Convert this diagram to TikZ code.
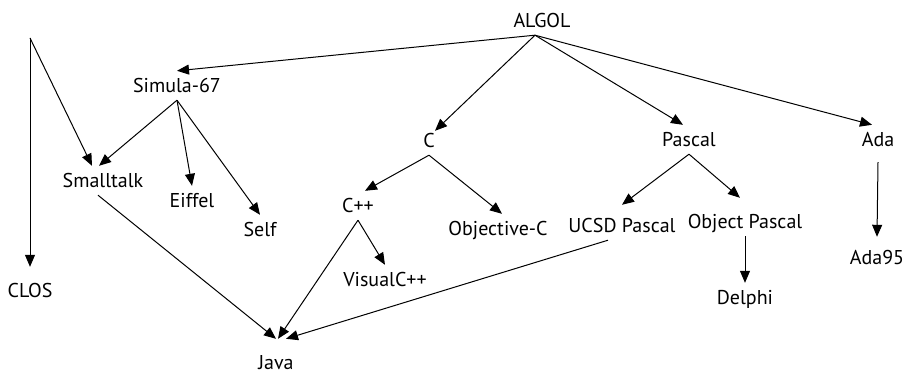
\documentclass[tikz,border=0pt]{standalone}
\usepackage{fontspec}
\setmainfont{PT Sans}
\usetikzlibrary{arrows.meta}

\tikzset{
  lang/.style={font=\fontsize{20}{24}\selectfont, text height=15pt, text depth=0pt,
    inner xsep=2pt, inner ysep=7pt, anchor=base},
  link/.style={-{Triangle[length=12pt,width=10pt]}, line width=1pt},
}

\begin{document}
\begin{tikzpicture}[x=1pt,y=-1pt]
\useasboundingbox (0,0) rectangle (908,374);
% languages
\node [lang] (algol) at (542,28) {ALGOL};
\node [lang] (simula) at (177,93) {Simula-67};
\node [lang] (smalltalk) at (103,188) {Smalltalk};
\node [lang] (eiffel) at (192,208) {Eiffel};
\node [lang] (self) at (260,237) {Self};
\node [lang] (clos) at (30,298) {CLOS};
\node [lang,inner ysep=15pt] (java) at (276,369) {Java};
\node [lang] (c) at (429,148) {C};
\node [lang] (cpp) at (358,213) {C++};
\node [lang] (visualcpp) at (385,287) {VisualC++};
\node [lang] (objc) at (498,236) {Objective-C};
\node [lang] (pascal) at (689,147) {Pascal};
\node [lang] (ucsd) at (622,233) {UCSD Pascal};
\node [lang] (objpascal) at (745,229) {Object Pascal};
\node [lang] (delphi) at (745,305) {Delphi};
\node [lang] (ada) at (878,147) {Ada};
\node [lang] (ada95) at (877,265) {Ada95};
\coordinate (lisp) at (30,38);
\coordinate (algolout) at ([xshift=-7pt]algol.south);

% ALGOL family
\draw [link] (algolout) -- (simula.north);
\draw [link] (algolout) -- ([xshift=6pt,yshift=-5pt]c.north);
\draw [link] (algolout) -- ([xshift=-6pt]pascal.north);
\draw [link] (algolout) -- ([xshift=-6pt]ada.north);
% Simula and Smalltalk
\draw [link] (simula.south) -- ([xshift=-4pt]smalltalk.north);
\draw [link] (simula.south) -- (eiffel.north);
\draw [link] (simula.south) -- (self.north);
\draw [link] (lisp) -- ([xshift=-11pt]smalltalk.north);
\draw [link] (lisp) -- ([yshift=9pt]clos.north);
\draw [link] ([xshift=-5pt]smalltalk.south) -- (java.north);
% C
\draw [link] (c.south) -- ([xshift=7pt]cpp.north);
\draw [link] (c.south) -- ([xshift=4pt]objc.north);
\draw [link] (cpp.south) -- (visualcpp.north);
\draw [link] (cpp.south) -- ([xshift=2pt]java.north);
% Pascal
\draw [link] (pascal.south) -- ([yshift=6pt]ucsd.north);
\draw [link] (pascal.south) -- ([xshift=-5pt,yshift=9pt]objpascal.north);
\draw [link] (objpascal.south) -- (delphi.north);
\draw [link] ([xshift=-14pt]ucsd.south) -- ([xshift=10pt]java.north);
% Ada
\draw [link] ([yshift=-8pt]ada.south) -- ([yshift=6pt]ada95.north);
\end{tikzpicture}
\end{document}
